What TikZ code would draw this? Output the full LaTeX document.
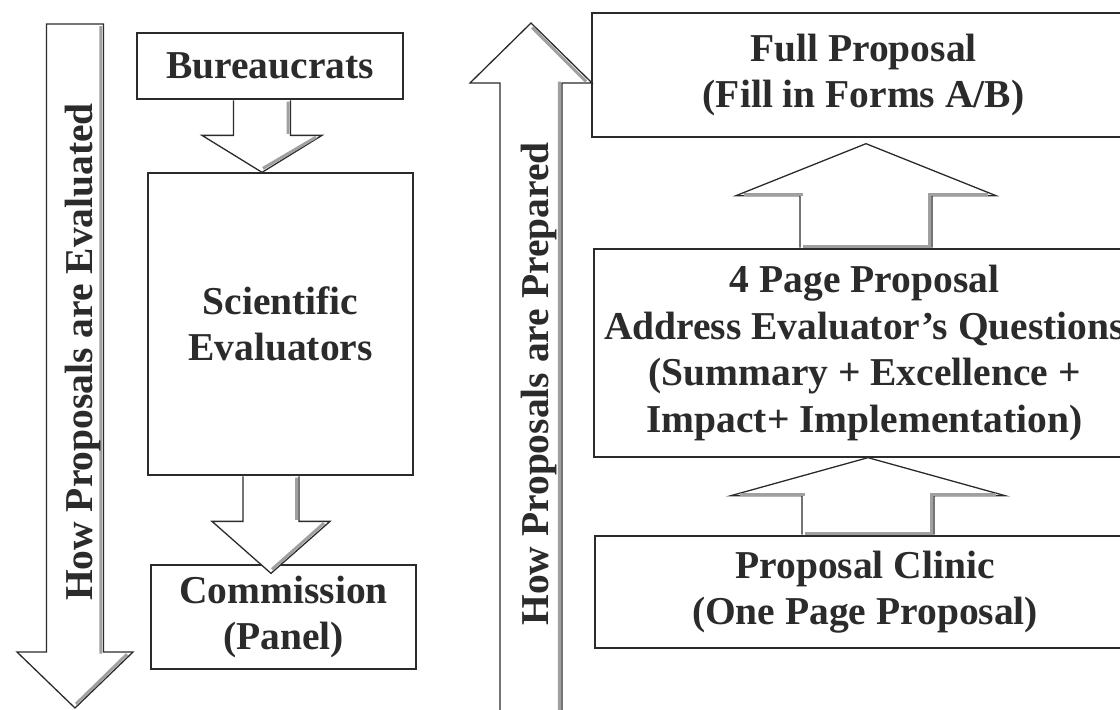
\documentclass[tikz,border=0pt]{standalone}
\usepackage{fontspec}
\setmainfont{Liberation Serif}
\usetikzlibrary{calc}
\definecolor{ink}{HTML}{2B2B2B}
\definecolor{shd}{HTML}{A0A0A0}
\tikzset{
  box/.style={draw=ink, line width=1.3pt, fill=white, inner sep=0pt, align=center,
    text=ink, font=\fontsize{39.5}{46.5}\selectfont\bfseries},
  blk/.style={draw=ink, line width=1.3pt, fill=white, line join=miter},
  shadeline/.style={draw=shd, line width=3pt},
  lbl/.style={text=ink, font=\fontsize{39.5}{46.5}\selectfont\bfseries, inner sep=0pt,
    anchor=base, rotate=90},
}
\begin{document}
\begin{tikzpicture}[x=1pt,y=-1pt]
\useasboundingbox (0,0) rectangle (1120,710);
\clip (0,0) rectangle (1120,710);

% ---- boxes ----
\node[box, minimum width=266pt, minimum height=66pt]  (bur)    at (270,66)    {Bureaucrats};
\node[box, minimum width=265pt, minimum height=302pt] (sci)    at (280.5,324) {Scientific\\Evaluators};
\node[box, minimum width=265pt, minimum height=104pt] (com)    at (283.5,617) {Commission\\(Panel)};
\node[box, minimum width=543pt, minimum height=124pt] (full)   at (863.5,75)  {Full Proposal\\(Fill in Forms A/B)};
\node[box, minimum width=541pt, minimum height=208pt] (four)   at (864.5,353) {4 Page Proposal\\Address Evaluator’s Questions\\(Summary + Excellence +\\Impact+ Implementation)};
\node[box, minimum width=540pt, minimum height=112pt] (clinic) at (865,592)   {Proposal Clinic\\(One Page Proposal)};

% ---- arrow axis helpers ----
\coordinate (c1) at (262,0);
\coordinate (c2) at (271,0);
\coordinate (c3) at (866,0);
\coordinate (c4) at (868,0);

% ---- block arrows between boxes ----
% Bureaucrats -> Scientific Evaluators
\draw[blk] let \p1=(bur.south -| c1), \p2=(sci.north -| c1) in
  (\x1-28.5pt,\y1-0.7pt) -- (\x1-28.5pt,\y2+37pt) -- (\x1-60pt,\y2+37pt) -- (\x2,\y2)
  -- (\x1+60pt,\y2+37pt) -- (\x1+28.5pt,\y2+37pt) -- (\x1+28.5pt,\y1-0.7pt);
\draw[shadeline] let \p1=(bur.south -| c1), \p2=(sci.north -| c1) in
  (\x1+26pt,\y1-2pt) -- (\x1+26pt,\y2+38.5pt)
  (\x1+54pt,\y2+35.2pt) -- (\x2+1pt,\y2+4pt);

% Scientific Evaluators -> Commission
\draw[blk] let \p1=(sci.south -| c2), \p2=(com.north -| c2) in
  (\x1-28pt,\y1-0.7pt) -- (\x1-28pt,\y2+43pt) -- (\x1-59pt,\y2+43pt) -- (\x2,\y2-9pt)
  -- (\x1+59pt,\y2+43pt) -- (\x1+28pt,\y2+43pt) -- (\x1+28pt,\y1-0.7pt);
\draw[shadeline] let \p1=(sci.south -| c2), \p2=(com.north -| c2) in
  (\x1+25.5pt,\y1-2pt) -- (\x1+25.5pt,\y2+44.5pt)
  (\x1+53pt,\y2+41.2pt) -- (\x2+1pt,\y2-5pt);

% Proposal Clinic -> 4 Page Proposal
\draw[blk] let \p1=(clinic.north -| c4), \p2=(four.south -| c4) in
  (\x1-66pt,\y1+0.7pt) -- (\x1-66pt,\y2-38pt) -- (\x1-137pt,\y2-38pt) -- (\x2,\y2)
  -- (\x1+137pt,\y2-38pt) -- (\x1+66pt,\y2-38pt) -- (\x1+66pt,\y1+0.7pt);
\draw[shadeline] let \p1=(clinic.north -| c4), \p2=(four.south -| c4) in
  (\x1-63.5pt,\y1+2.2pt) -- (\x1+63.5pt,\y1+2.2pt) -- (\x1+63.5pt,\y2-36.5pt) -- (\x1+128pt,\y2-36.5pt)
  (\x1-128pt,\y2-36.5pt) -- (\x1-63.5pt,\y2-36.5pt);

% 4 Page Proposal -> Full Proposal
\draw[blk] let \p1=(four.north -| c3), \p2=(full.south -| c3) in
  (\x1-66pt,\y1+0.7pt) -- (\x1-66pt,\y2-58pt) -- (\x1-130pt,\y2-58pt) -- (\x2,\y2-6pt)
  -- (\x1+130pt,\y2-58pt) -- (\x1+66pt,\y2-58pt) -- (\x1+66pt,\y1+0.7pt);
\draw[shadeline] let \p1=(four.north -| c3), \p2=(full.south -| c3) in
  (\x1-63.5pt,\y1+2.2pt) -- (\x1+63.5pt,\y1+2.2pt) -- (\x1+63.5pt,\y2-56.5pt) -- (\x1+122pt,\y2-56.5pt)
  (\x1-122pt,\y2-56.5pt) -- (\x1-63.5pt,\y2-56.5pt);

% ---- big side arrows ----
\draw[blk] (46.5,24) -- (46.5,652) -- (17,652) -- (75,708) -- (133,652) -- (103.5,652) -- (103.5,24) -- cycle;
\draw[shadeline] (100.8,26) -- (100.8,653.5) (127,654.2) -- (76,704);
\draw[blk] (500,720) -- (500,83) -- (470,83) -- (531,23) -- (592,83) -- (562,83) -- (562,720);
\draw[shadeline] (559.3,720) -- (559.3,81.5) (586,81.5) -- (532,27.5);

\node[lbl] (lt) at (92,352)  {How Proposals are Evaluated};
\node[lbl] (rt) at (548,384) {How Proposals are Prepared};
\end{tikzpicture}
\end{document}
